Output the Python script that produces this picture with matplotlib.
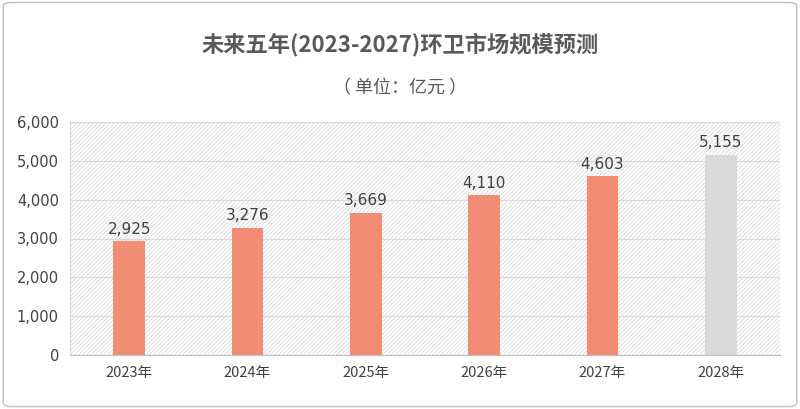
import matplotlib
matplotlib.use("Agg")
import matplotlib.pyplot as plt
from matplotlib.patches import FancyBboxPatch, Rectangle

plt.rcParams['font.family'] = ['Noto Sans CJK SC', 'DejaVu Sans']
plt.rcParams['hatch.color'] = '#d9d9d9'
plt.rcParams['hatch.linewidth'] = 0.6

years = ["2023年", "2024年", "2025年", "2026年", "2027年", "2028年"]
values = [2925, 3276, 3669, 4110, 4603, 5155]
colors = ["#F28C74"] * 5 + ["#D9D9D9"]
yticks = [0, 1000, 2000, 3000, 4000, 5000, 6000]

fig = plt.figure(figsize=(8, 4.09), dpi=100)
fig.patches.append(FancyBboxPatch((0.004, 0.006), 0.992, 0.988, boxstyle="round,pad=0,rounding_size=0.01",
                                  transform=fig.transFigure, fc='none', ec='#bfbfbf', lw=1, zorder=-1))
ax = fig.add_axes([70/800, 1-355/409, 710/800, 233/409])
ax.set_facecolor('none')
ax.add_patch(Rectangle((0, 0), 1, 1, transform=ax.transAxes, fc='white', ec='#d9d9d9', hatch='////////', lw=0.8, zorder=0))
x = range(len(years))
bars = ax.bar(x, values, width=0.27, color=colors, zorder=3)
for xi, v in zip(x, values):
    ax.text(xi, v + 120, f"{v:,}", ha='center', va='bottom', fontsize=11, color='#404040', family='DejaVu Sans', zorder=4)
ax.set_xlim(-0.5, 5.5)
ax.set_ylim(0, 6000)
ax.set_yticks(yticks)
ax.set_yticklabels([f"{t:,}" for t in yticks], fontsize=10.5, color='#404040', family='DejaVu Sans')
ax.set_xticks(list(x))
ax.set_xticklabels(years, fontsize=10.5, color='#404040')
ax.tick_params(length=0, pad=8)
ax.grid(axis='y', color='#d9d9d9', lw=0.8, zorder=1)
for s in ax.spines.values():
    s.set_visible(False)
ax.spines['bottom'].set_visible(True)
ax.spines['bottom'].set_color('#bfbfbf')

fig.text(0.5, 1-45/409, "未来五年(2023-2027)环卫市场规模预测", ha='center', va='center', fontsize=16, fontweight='bold', color='#595959')
fig.text(0.5, 1-88/409, "（ 单位：亿元 ）", ha='center', va='center', fontsize=13, color='#595959')
fig.savefig("out.png", dpi=100)
